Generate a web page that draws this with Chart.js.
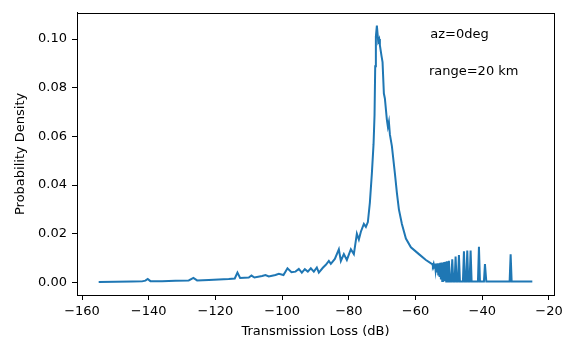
<!DOCTYPE html>
<html>
<head>
<meta charset="utf-8">
<script src="https://cdn.jsdelivr.net/npm/chart.js@4"></script>
<style>
  body { margin: 0; background: #fff; }
  #wrap { width: 570px; height: 343px; }
</style>
</head>
<body>
<div id="wrap"><canvas id="myChart" width="570" height="343"></canvas></div>
<script>
// transmission loss (dB) and probability density
var tl = [
  -155.0, -150.0, -145.0, -142.0, -141.0, -140.3, -139.5, -136.0, -132.0, -128.0,
  -126.6, -125.5, -122.0, -119.0, -116.0, -114.2, -113.4, -112.6, -110.0, -109.2,
  -108.3, -106.0, -105.0, -104.0, -102.0, -101.0, -99.6, -98.4, -97.2, -96.0,
  -95.0, -94.1, -93.2, -92.3, -91.4, -90.5, -89.6, -89.0, -87.8, -86.9,
  -86.0, -85.4, -84.2, -83.0, -82.4, -81.5, -80.6, -79.4, -78.5, -77.6,
  -77.0, -76.4, -75.5, -74.9, -74.3, -73.7, -73.1, -72.6, -72.3, -72.1,
  -71.9, -71.6, -71.2, -70.9, -70.7, -70.2, -69.9, -69.5, -69.2, -68.6,
  -68.3, -68.0, -67.7, -67.1, -66.2, -65.6, -65.0, -64.1, -62.9, -61.4,
  -59.0, -56.9, -55.25,
  -55.0, -54.8, -54.6, -54.4, -54.2, -54.0, -53.8, -53.6, -53.4, -53.2,
  -53.0, -52.8, -52.6, -52.4, -52.2, -52.0, -51.8, -51.6, -51.4, -51.2,
  -51.0, -50.8, -50.6, -50.4, -50.2,
  -50.0, -49.7, -49.3, -49.0, -48.7, -48.3, -48.0, -47.7, -47.3, -47.0,
  -46.7, -45.8, -45.5, -45.2, -44.8, -44.5, -44.2, -43.8, -43.5, -43.2,
  -41.3, -41.0, -40.7, -39.5, -39.2, -38.8, -31.8, -31.5, -31.2, -25.0
];
var density = [
  0.0001, 0.0002, 0.0003, 0.0004, 0.0007, 0.0014, 0.0005, 0.0005, 0.0007, 0.0008,
  0.0018, 0.0008, 0.0010, 0.0012, 0.0014, 0.0016, 0.0040, 0.0018, 0.0020, 0.0028,
  0.0020, 0.0026, 0.0030, 0.0024, 0.0030, 0.0035, 0.0030, 0.0058, 0.0042, 0.0044,
  0.0055, 0.0040, 0.0054, 0.0044, 0.0058, 0.0044, 0.0061, 0.0040, 0.0060, 0.0072,
  0.0088, 0.0076, 0.0096, 0.0136, 0.0088, 0.0116, 0.0092, 0.0136, 0.0116, 0.0200,
  0.0176, 0.0208, 0.0240, 0.0228, 0.0248, 0.0328, 0.0448, 0.0568, 0.0688, 0.0888,
  0.1010, 0.1055, 0.0990, 0.1000, 0.0975, 0.0930, 0.0905, 0.0776, 0.0756, 0.0668,
  0.0640, 0.0660, 0.0608, 0.0560, 0.0448, 0.0368, 0.0300, 0.0240, 0.0180, 0.0144,
  0.0116, 0.0092, 0.0077,
  0.0075, 0.0068, 0.0076, 0.0060, 0.0077, 0.0050, 0.0077, 0.0041, 0.0078, 0.0032,
  0.0079, 0.0022, 0.0080, 0.0012, 0.0081, 0.0006, 0.0082, 0.0005, 0.0083, 0.0005,
  0.0085, 0.0004, 0.0087, 0.0004, 0.0004,
  0.0089, 0.0004, 0.0004, 0.0095, 0.0004, 0.0004, 0.0106, 0.0004, 0.0004, 0.0112,
  0.0004, 0.0004, 0.0128, 0.0004, 0.0004, 0.0131, 0.0004, 0.0004, 0.0131, 0.0004,
  0.0004, 0.0146, 0.0004, 0.0004, 0.0075, 0.0004, 0.0004, 0.0115, 0.0004, 0.0004
];
var xTicks = [-160, -140, -120, -100, -80, -60, -40, -20];
var yTicks = [0.00, 0.02, 0.04, 0.06, 0.08, 0.10];
var notes = ["az=0deg", "range=20 km"];

var points = tl.map(function(x, i) { return {x: x, y: density[i]}; });

Chart.defaults.font.family = "'DejaVu Sans', sans-serif";
Chart.defaults.font.size = 13;
Chart.defaults.color = "#000";

// box around the plot + the two text notes
var boxPlugin = {
  id: "box",
  afterDraw: function(chart) {
    var ctx = chart.ctx;
    var a = chart.chartArea;
    ctx.save();
    ctx.strokeStyle = "#000";
    ctx.lineWidth = 1;
    ctx.strokeRect(Math.round(a.left) + 0.5, Math.round(a.top) + 0.5,
      Math.round(a.right - a.left), Math.round(a.bottom - a.top));
    ctx.font = "13px 'DejaVu Sans'";
    ctx.fillStyle = "#000";
    ctx.textBaseline = "alphabetic";
    var xs = chart.scales.x, ys = chart.scales.y;
    ctx.fillText(notes[0], xs.getPixelForValue(-55.6), ys.getPixelForValue(0.1003));
    ctx.fillText(notes[1], xs.getPixelForValue(-56.0), ys.getPixelForValue(0.0853));
    ctx.restore();
  }
};

new Chart("myChart", {
  type: "line",
  data: {
    datasets: [{
      data: points,
      borderColor: "#1f77b4",
      borderWidth: 2,
      pointRadius: 0,
      tension: 0,
      fill: false
    }]
  },
  options: {
    responsive: false,
    animation: false,
    devicePixelRatio: 1,
    layout: { padding: { left: 0, top: 5, right: 16, bottom: 0 } },
    plugins: { legend: { display: false }, tooltip: { enabled: false } },
    scales: {
      x: {
        type: "linear",
        min: -161.5,
        max: -18.5,
        afterFit: function(s) { s.height = 48; },
        afterBuildTicks: function(s) { s.ticks = xTicks.map(function(v) { return {value: v}; }); },
        grid: { drawOnChartArea: false, drawTicks: true, tickLength: 5, color: "#000" },
        border: { color: "#000", width: 1 },
        ticks: {
          padding: 4,
          maxRotation: 0,
          callback: function(v) { return String(v).replace("-", "\u2212"); }
        },
        title: { display: true, text: "Transmission Loss (dB)", padding: { top: 0, bottom: 4 } }
      },
      y: {
        min: -0.0052,
        max: 0.1108,
        afterFit: function(s) { s.width = 77; },
        afterBuildTicks: function(s) { s.ticks = yTicks.map(function(v) { return {value: v}; }); },
        grid: { drawOnChartArea: false, drawTicks: true, tickLength: 5, color: "#000" },
        border: { color: "#000", width: 1 },
        ticks: {
          padding: 5,
          callback: function(v) { return v.toFixed(2); }
        },
        title: { display: true, text: "Probability Density", padding: { top: 13, bottom: 0 } }
      }
    }
  },
  plugins: [boxPlugin]
});
</script>
</body>
</html>
